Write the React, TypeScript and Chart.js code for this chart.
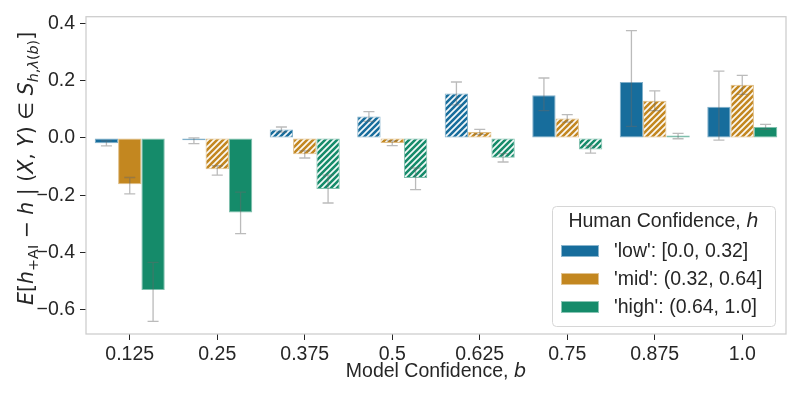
import React, { useEffect, useRef } from 'react';
import { Chart, registerables } from 'chart.js';
Chart.register(...registerables);

const categories = ['0.125', '0.25', '0.375', '0.5', '0.625', '0.75', '0.875', '1.0'];
const seriesLabels = ["'low': [0.0, 0.32]", "'mid': (0.32, 0.64]", "'high': (0.64, 1.0]"];
const seriesColors = ['#176d9c', '#c38720', '#158b6a'];
const seriesEdges = ['rgba(23,109,156,0.55)', 'rgba(195,135,32,0.55)', 'rgba(21,139,106,0.55)'];

const lowValues = [-0.019, -0.008, 0.029, 0.075, 0.155, 0.149, 0.195, 0.109];
const lowErrLo = [-0.028, -0.020, 0.020, 0.058, 0.115, 0.095, 0.040, -0.008];
const lowErrHi = [-0.010, 0.000, 0.038, 0.092, 0.195, 0.209, 0.374, 0.233];
const lowHatch = [false, true, true, true, true, false, false, false];

const midValues = [-0.162, -0.109, -0.057, -0.018, 0.021, 0.068, 0.130, 0.185];
const midErrLo = [-0.195, -0.130, -0.070, -0.027, 0.012, 0.055, 0.095, 0.152];
const midErrHi = [-0.138, -0.097, -0.045, -0.010, 0.030, 0.081, 0.164, 0.218];
const midHatch = [false, true, true, true, true, true, true, true];

const highValues = [-0.530, -0.260, -0.178, -0.140, -0.069, -0.040, 0.008, 0.038];
const highErrLo = [-0.640, -0.334, -0.227, -0.180, -0.084, -0.053, -0.003, 0.030];
const highErrHi = [-0.434, -0.189, -0.130, -0.105, -0.055, -0.028, 0.016, 0.047];
const highHatch = [false, false, true, true, true, true, true, false];

const yTicks = [-0.6, -0.4, -0.2, 0.0, 0.2, 0.4];
const yMin = -0.6838;
const yMax = 0.4227;

const FONT = "'Liberation Sans', Arial, sans-serif";
const MATH = "'DejaVu Sans', sans-serif";
const TEXT = '#262626';
const FS = 19.5;
const YFS = 20.5;

type Seg = { t: string; it?: boolean; sub?: boolean; math?: boolean };

function segFont(s: Seg, size: number) {
  const sz = s.sub ? size * 0.7 : size;
  const fam = s.math || s.it || s.sub ? MATH : FONT;
  return `${s.it ? 'italic ' : ''}${sz}px ${fam}`;
}
function measureSegs(ctx: CanvasRenderingContext2D, segs: Seg[], size: number) {
  let w = 0;
  for (const s of segs) {
    ctx.font = segFont(s, size);
    w += ctx.measureText(s.t).width;
  }
  return w;
}
function drawSegs(ctx: CanvasRenderingContext2D, segs: Seg[], x: number, y: number, size: number) {
  let cx = x;
  for (const s of segs) {
    ctx.font = segFont(s, size);
    ctx.fillText(s.t, cx, s.sub ? y + size * 0.24 : y);
    cx += ctx.measureText(s.t).width;
  }
}

const yTitle: Seg[] = [
  { t: 'E', it: true }, { t: '[', math: true }, { t: 'h', it: true }, { t: '+AI', sub: true },
  { t: ' − ', math: true }, { t: 'h', it: true }, { t: ' | ', math: true }, { t: '(', math: true },
  { t: 'X', it: true }, { t: ', ', math: true }, { t: 'Y', it: true }, { t: ')', math: true },
  { t: ' ∈ ', math: true }, { t: 'S', it: true }, { t: 'h', it: true, sub: true }, { t: ',', sub: true },
  { t: 'λ', it: true, sub: true }, { t: '(', sub: true }, { t: 'b', it: true, sub: true }, { t: ')', sub: true },
  { t: ']', math: true },
];
const xTitle: Seg[] = [{ t: 'Model Confidence, ' }, { t: 'b', it: true }];
const legendTitle: Seg[] = [{ t: 'Human Confidence, ' }, { t: 'h', it: true }];

function makeHatch(ctx: CanvasRenderingContext2D, color: string) {
  const s = 6;
  const c = document.createElement('canvas');
  c.width = s; c.height = s;
  const g = c.getContext('2d')!;
  g.fillStyle = color; g.fillRect(0, 0, s, s);
  g.strokeStyle = 'rgba(255,255,255,0.95)';
  g.lineWidth = 1.7;
  g.beginPath();
  g.moveTo(-1, s + 1); g.lineTo(s + 1, -1);
  g.moveTo(-1, 1); g.lineTo(1, -1);
  g.moveTo(s - 1, s + 1); g.lineTo(s + 1, s - 1);
  g.stroke();
  return ctx.createPattern(c, 'repeat')!;
}

const errs = [[lowErrLo, lowErrHi], [midErrLo, midErrHi], [highErrLo, highErrHi]];

const decorPlugin = {
  id: 'decor',
  beforeDatasetsDraw(chart: any) {
    const { ctx, chartArea: a } = chart;
    ctx.save();
    ctx.strokeStyle = '#cccccc';
    ctx.lineWidth = 1.25;
    ctx.strokeRect(a.left, a.top, a.right - a.left, a.bottom - a.top);
    ctx.restore();
  },
  afterDatasetsDraw(chart: any) {
    const ctx = chart.ctx;
    const ys = chart.scales.y;
    ctx.save();
    ctx.strokeStyle = 'rgba(105,105,105,0.45)';
    ctx.lineWidth = 1.3;
    errs.forEach(([lo, hi], di) => {
      const meta = chart.getDatasetMeta(di);
      meta.data.forEach((bar: any, i: number) => {
        const x = bar.x;
        const y1 = ys.getPixelForValue(lo[i]);
        const y2 = ys.getPixelForValue(hi[i]);
        const cw = 5.5;
        ctx.beginPath();
        ctx.moveTo(x, y1); ctx.lineTo(x, y2);
        ctx.moveTo(x - cw, y1); ctx.lineTo(x + cw, y1);
        ctx.moveTo(x - cw, y2); ctx.lineTo(x + cw, y2);
        ctx.stroke();
      });
    });
    ctx.restore();
  },
  afterDraw(chart: any) {
    const { ctx, chartArea: a } = chart;
    ctx.save();
    ctx.fillStyle = TEXT;
    ctx.textBaseline = 'alphabetic';
    // x title
    const xw = measureSegs(ctx, xTitle, FS);
    drawSegs(ctx, xTitle, (a.left + a.right) / 2 - xw / 2, 377, FS);
    // y title
    const yw = measureSegs(ctx, yTitle, YFS);
    ctx.save();
    ctx.translate(33, (a.top + a.bottom) / 2 - 7);
    ctx.rotate(-Math.PI / 2);
    drawSegs(ctx, yTitle, -yw / 2, 0, YFS);
    ctx.restore();
    // legend
    const lx = 552, ly = 206, lw = 223, lh = 120;
    ctx.beginPath();
    ctx.roundRect(lx + 0.5, ly + 0.5, lw, lh, 4);
    ctx.fillStyle = 'rgba(255,255,255,0.85)';
    ctx.fill();
    ctx.strokeStyle = '#d6d6d6';
    ctx.lineWidth = 1;
    ctx.stroke();
    ctx.fillStyle = TEXT;
    const tw = measureSegs(ctx, legendTitle, FS);
    drawSegs(ctx, legendTitle, lx + lw / 2 - tw / 2, 227, FS);
    const rows = [251, 279, 307];
    seriesLabels.forEach((lab, i) => {
      const cy = rows[i];
      ctx.fillStyle = seriesColors[i];
      ctx.fillRect(561, cy - 6, 38, 12);
      ctx.strokeStyle = 'rgba(255,255,255,0.5)';
      ctx.strokeRect(561.5, cy - 5.5, 37, 11);
      ctx.fillStyle = TEXT;
      ctx.font = `${FS}px ${FONT}`;
      ctx.textBaseline = 'middle';
      ctx.fillText(lab, 614, cy + 1);
      ctx.textBaseline = 'alphabetic';
    });
    ctx.restore();
  },
};

export default function App() {
  const ref = useRef<HTMLCanvasElement | null>(null);
  useEffect(() => {
    document.body.style.margin = '0';
    const canvas = ref.current!;
    const ctx = canvas.getContext('2d')!;
    const vals = [lowValues, midValues, highValues];
    const hatches = [lowHatch, midHatch, highHatch];
    const datasets = vals.map((v, di) => {
      const pat = makeHatch(ctx, seriesColors[di]);
      return {
        label: seriesLabels[di],
        data: v,
        backgroundColor: hatches[di].map((h) => (h ? pat : seriesColors[di])),
        borderColor: seriesEdges[di],
        borderWidth: 1,
        borderSkipped: false,
        categoryPercentage: 0.8,
        barPercentage: 1.0,
      };
    });
    const chart = new Chart(canvas, {
      type: 'bar',
      data: { labels: categories, datasets: datasets as any },
      options: {
        animation: false,
        responsive: false,
        devicePixelRatio: 1,
        layout: { padding: { top: 12, right: 11, left: 0, bottom: 0 } },
        plugins: { legend: { display: false }, tooltip: { enabled: false } },
        scales: {
          x: {
            offset: true,
            grid: { display: true, drawOnChartArea: false, offset: false, tickLength: 6, tickColor: TEXT, tickWidth: 1 },
            border: { display: false },
            ticks: { font: { family: FONT, size: FS }, color: TEXT, padding: 3, autoSkip: false, maxRotation: 0 },
            afterFit: (s: any) => { s.height = 65; },
          },
          y: {
            min: yMin,
            max: yMax,
            grid: { display: true, drawOnChartArea: false, tickLength: 6, tickColor: TEXT, tickWidth: 1 },
            border: { display: false },
            ticks: {
              font: { family: FONT, size: FS },
              color: TEXT,
              padding: 5,
              callback: (v: any) => {
                const n = Number(v);
                const s = Math.abs(n).toFixed(1);
                return n < -1e-9 ? '−' + s : s;
              },
            },
            afterBuildTicks: (s: any) => { s.ticks = yTicks.map((v) => ({ value: v })); },
            afterFit: (s: any) => { s.width = 86; },
          },
        },
      },
      plugins: [decorPlugin],
    });
    return () => chart.destroy();
  }, []);
  return (
    <div style={{ width: 797, height: 399 }}>
      <canvas ref={ref} width={797} height={399} style={{ width: 797, height: 399, display: 'block' }} />
    </div>
  );
}
